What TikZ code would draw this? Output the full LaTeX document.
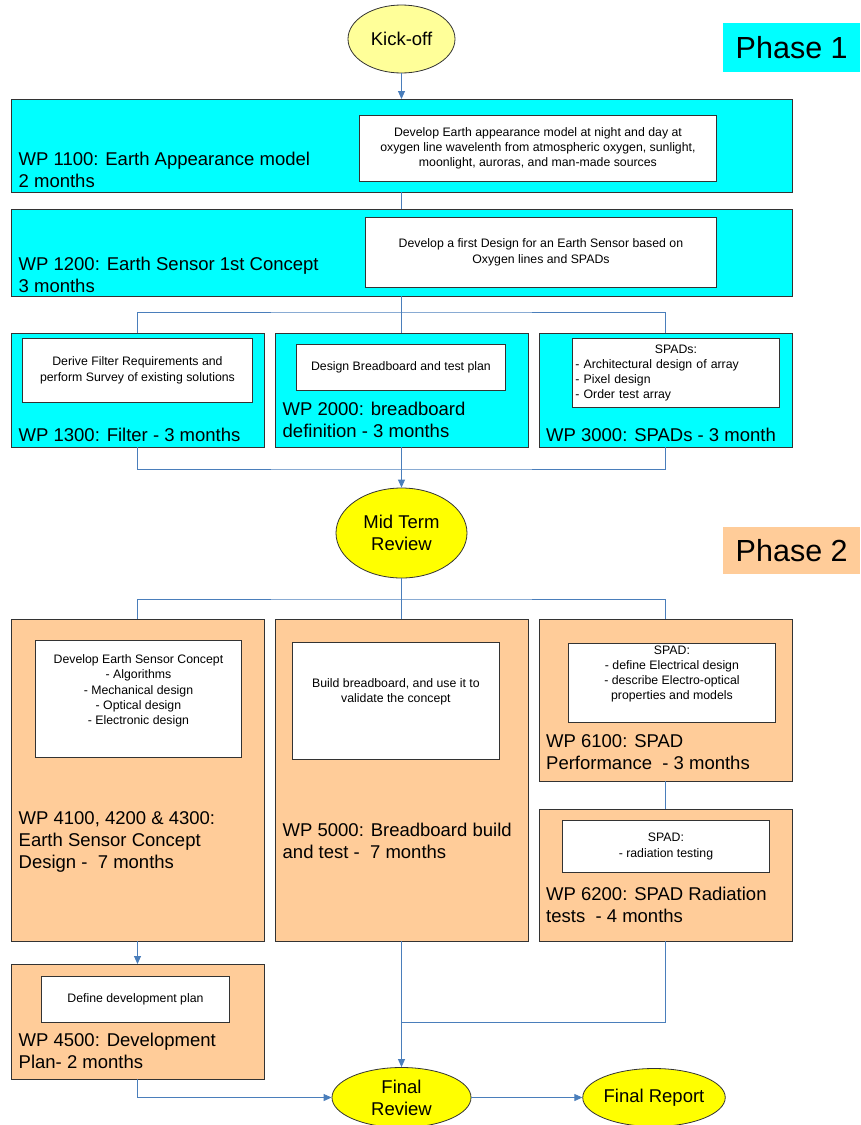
\documentclass[tikz,border=0pt]{standalone}
\usepackage{fontspec}
\setmainfont{Liberation Sans}
\usetikzlibrary{shapes.geometric,arrows.meta}

\definecolor{phaseeins}{RGB}{0,255,255}
\definecolor{phasezwei}{RGB}{255,204,153}
\definecolor{meilenstein}{RGB}{255,255,0}
\definecolor{startgelb}{RGB}{255,255,153}
\definecolor{verbinder}{RGB}{74,126,187}

\tikzset{
    wpbox/.style={draw=black!80, line width=1pt, anchor=north west, inner sep=0pt, outer sep=0pt},
    taskbox/.style={draw=black!80, line width=0.9pt, fill=white, anchor=north west, inner sep=2pt,
        align=center, font=\fontsize{12.3}{15.3}\selectfont},
    wplabel/.style={anchor=north west, inner sep=0pt, align=left, font=\fontsize{18.5}{22}\selectfont},
    review/.style={ellipse, draw=black!80, line width=0.8pt, fill=meilenstein, inner sep=0pt,
        align=center, font=\fontsize{18.5}{22}\selectfont},
    phasetag/.style={anchor=north west, inner sep=0pt, minimum width=137pt,
        font=\fontsize{30.5}{36}\selectfont},
    conn/.style={draw=verbinder, line width=0.9pt},
    arr/.style={conn, -{Triangle[length=8pt,width=7pt]}}
}

\begin{document}
\begin{tikzpicture}[x=1pt, y=-1pt]

        \useasboundingbox (0,0) rectangle (860,1125);

        % Phase 1 Arbeitspakete
        \node [wpbox, fill=phaseeins, minimum width=781pt, minimum height=93pt] (wp1100) at (11,99) {};
        \node [wpbox, fill=phaseeins, minimum width=781pt, minimum height=87pt] (wp1200) at (11,209) {};
        \node [wpbox, fill=phaseeins, minimum width=253pt, minimum height=114pt] (wp1300) at (11,333) {};
        \node [wpbox, fill=phaseeins, minimum width=253pt, minimum height=114pt] (wp2000) at (275,333) {};
        \node [wpbox, fill=phaseeins, minimum width=253pt, minimum height=114pt] (wp3000) at (539,333) {};

        \node [taskbox, minimum width=357pt, minimum height=66pt] (task1100) at (359,115)
            {Develop Earth appearance model at night and day at\\oxygen line wavelenth from atmospheric oxygen, sunlight,\\moonlight, auroras, and man-made sources};
        \node [taskbox, minimum width=351pt, minimum height=70pt] (task1200) at (365,217)
            {Develop a first Design for an Earth Sensor based on\\Oxygen lines and SPADs};
        \node [taskbox, minimum width=230pt, minimum height=64pt] (task1300) at (22,338)
            {Derive Filter Requirements and\\perform Survey of existing solutions};
        \node [taskbox, minimum width=209pt, minimum height=46pt] (task2000) at (296,344)
            {Design Breadboard and test plan};
        \node [taskbox, align=left, text width=201pt, inner xsep=3pt, minimum height=69pt] (task3000) at (572,338)
            {\hfill SPADs:\hfill\null\\- Architectural design of array\\- Pixel design\\- Order test array};

        \node [wplabel] (lbl1100) at (18.5,152) {WP 1100: Earth Appearance model\\2 months};
        \node [wplabel] (lbl1200) at (18.5,257) {WP 1200: Earth Sensor 1st Concept\\3 months};
        \node [wplabel] (lbl1300) at (18.5,428) {WP 1300: Filter - 3 months};
        \node [wplabel] (lbl2000) at (282.5,401.5) {WP 2000: breadboard\\definition - 3 months};
        \node [wplabel] (lbl3000) at (546,428) {WP 3000: SPADs - 3 month};

        % Phase 2 Arbeitspakete
        \node [wpbox, fill=phasezwei, minimum width=253pt, minimum height=322pt] (wp4100) at (11,619) {};
        \node [wpbox, fill=phasezwei, minimum width=253pt, minimum height=322pt] (wp5000) at (275,619) {};
        \node [wpbox, fill=phasezwei, minimum width=253pt, minimum height=162pt] (wp6100) at (539,619) {};
        \node [wpbox, fill=phasezwei, minimum width=253pt, minimum height=132pt] (wp6200) at (539,809) {};
        \node [wpbox, fill=phasezwei, minimum width=253pt, minimum height=115pt] (wp4500) at (11,964) {};

        \node [taskbox, minimum width=206pt, minimum height=117pt, text depth=18.5pt] (task4100) at (35,640)
            {Develop Earth Sensor Concept\\- Algorithms\\- Mechanical design\\- Optical design\\- Electronic design};
        \node [taskbox, minimum width=207pt, minimum height=117pt, text depth=20.5pt] (task5000) at (292,642)
            {Build breadboard, and use it to\\validate the concept};
        \node [taskbox, minimum width=207pt, minimum height=76pt, text depth=20.5pt] (task6100) at (568,643)
            {SPAD:\\- define Electrical design\\- describe Electro-optical\\properties and models};
        \node [taskbox, minimum width=207pt, minimum height=52pt] (task6200) at (562,820)
            {SPAD:\\- radiation testing};
        \node [taskbox, minimum width=188pt, minimum height=46pt] (task4500) at (41,976)
            {Define development plan};

        \node [wplabel] (lbl4100) at (18.5,811.5) {WP 4100, 4200 \& 4300:\\Earth Sensor Concept\\Design -~~7 months};
        \node [wplabel] (lbl5000) at (282.5,822.5) {WP 5000: Breadboard build\\and test -~~7 months};
        \node [wplabel] (lbl6100) at (546,734.5) {WP 6100: SPAD\\Performance~~- 3 months};
        \node [wplabel] (lbl6200) at (546,887) {WP 6200: SPAD Radiation\\tests~~- 4 months};
        \node [wplabel] (lbl4500) at (18.5,1033) {WP 4500: Development\\Plan- 2 months};

        % Meilensteine
        \node [review, fill=startgelb, minimum width=107pt, minimum height=68pt] (kickoff) at (wp1100.north |- 0,39) {Kick-off};
        \node [review, minimum width=131pt, minimum height=90pt] (midterm) at (wp2000.north |- 0,533) {Mid Term\\Review};
        \node [review, minimum width=139pt, minimum height=60pt] (finalreview) at (wp5000.south |- 0,1097.5) {Final\\Review};
        \node [review, minimum width=138pt, minimum height=58pt] (finalreport) at (654,1097.5) {Final Report};

        % Phasen
        \node [phasetag, fill=phaseeins, minimum height=49pt] (phase1) at (723,23) {Phase 1};
        \node [phasetag, fill=phasezwei, minimum height=47pt] (phase2) at (723,527) {Phase 2};

        % Verbindungen
        \coordinate (split1) at ([yshift=21pt]wp2000.north);
        \coordinate (merge1) at ([yshift=-22pt]wp2000.south);
        \coordinate (split2) at ([yshift=20pt]wp5000.north);
        \coordinate (merge2) at ([yshift=-81pt]wp5000.south);

        \draw [arr] (kickoff) -- (wp1100);
        \draw [conn] (wp1100) -- (wp1200);
        \draw [conn] (wp1200) -- (wp2000);
        \draw [conn] (wp1300.north) |- (split1) -| (wp3000.north);
        \draw [conn] (wp1300.south) |- (merge1) -| (wp3000.south);
        \draw [arr] (wp2000) -- (midterm);

        \draw [conn] (midterm) -- (wp5000);
        \draw [conn] (wp4100.north) |- (split2) -| (wp6100.north);
        \draw [conn] (wp6100) -- (wp6200);
        \draw [arr] (wp4100) -- (wp4500);
        \draw [arr] (wp5000) -- (finalreview);
        \draw [conn] (wp6200.south) |- (merge2);
        \draw [arr] (wp4500.south) |- (finalreview.west);
        \draw [arr] (finalreview) -- (finalreport);

\end{tikzpicture}
\end{document}
